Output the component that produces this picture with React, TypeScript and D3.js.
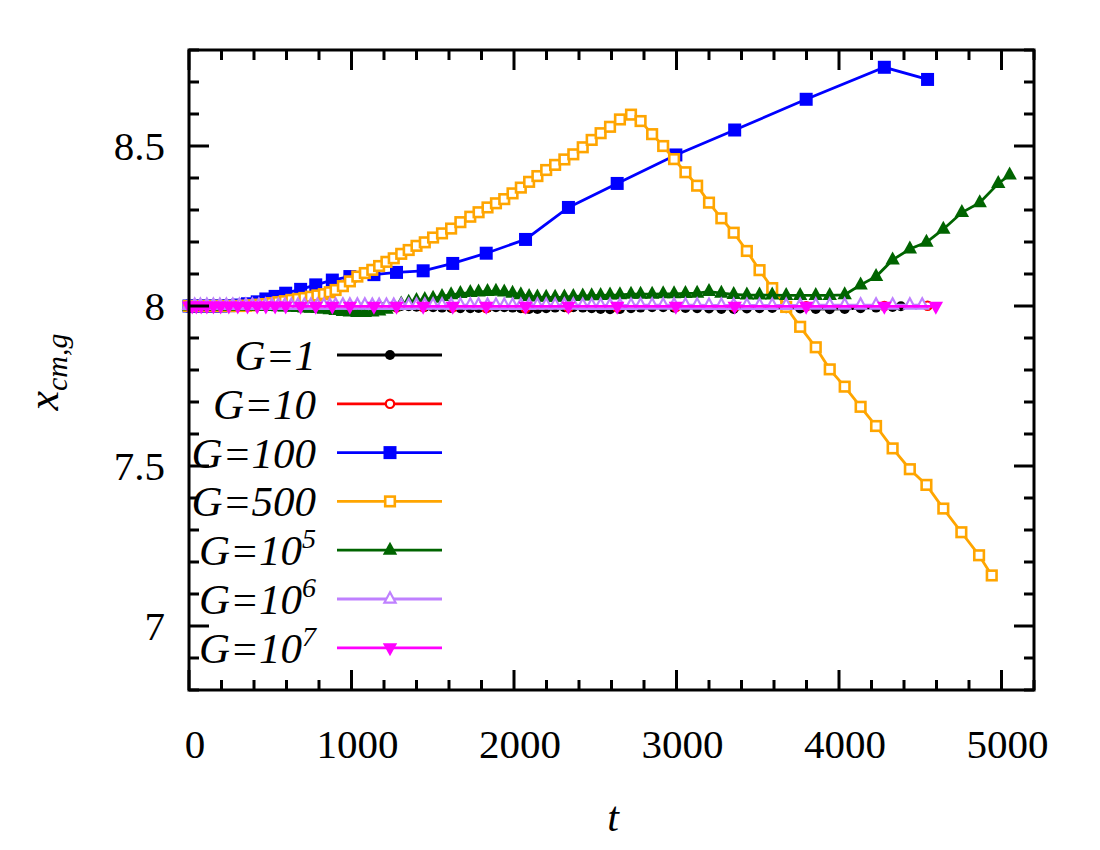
import * as d3 from 'd3';

// time grids
const tCoarse = [0, 20, 45, 75, 110, 150, 195, 245, 300, 360, 420, 473, 530, 595, 687, 780, 882, 990, 1138, 1277, 1441, 1623, 1829, 2071, 2335, 2635, 2996, 3358, 3798, 4279, 4545];
const tG7 = [0, 20, 45, 75, 110, 150, 195, 245, 300, 360, 420, 473, 530, 595, 687, 780, 882, 990, 1138, 1277, 1441, 1623, 1829, 2071, 2335, 2635, 2996, 3358, 3798, 4279, 4596];
const tFine = [
  0, 35, 70, 110, 150, 190, 230, 270, 310, 350,
  390, 430, 470, 510, 550, 590, 630, 670, 710, 750,
  790, 830, 866, 902, 947, 990, 1036, 1082, 1128, 1170,
  1215, 1260, 1306, 1352, 1400, 1451, 1502, 1557, 1613, 1670,
  1731, 1782, 1837, 1889, 1940, 1991, 2042, 2093, 2144, 2198,
  2253, 2310, 2365, 2423, 2478, 2533, 2591, 2652, 2720, 2779,
  2850, 2918, 2985, 3055, 3127, 3200, 3276, 3352, 3433, 3511,
  3589, 3675, 3761, 3857, 3943, 4035, 4133, 4228, 4330, 4436,
  4538, 4642,
];
const tG1 = [...tFine.slice(0, 79), 4381];
const tG500 = [...tFine, 4753, 4862, 4940];
const tG5 = [...tFine, 4756, 4866, 4980, 5050];
const tG6 = [...tFine.slice(0, 80), 4512];

const vG1 = [
  8.0, 8.0, 8.0, 8.0, 8.0, 8.0, 8.0, 8.0, 8.0, 8.0,
  8.0, 8.0, 8.0, 8.0, 8.0, 8.0, 8.0, 8.0, 8.0, 8.0,
  7.999, 7.999, 7.998, 7.998, 7.997, 7.997, 7.997, 7.998, 7.998, 7.999,
  8.0, 8.0, 8.0, 7.999, 7.998, 7.997, 7.996, 7.995, 7.994, 7.993,
  7.993, 7.994, 7.995, 7.996, 7.996, 7.995, 7.993, 7.991, 7.991, 7.993,
  7.995, 7.996, 7.996, 7.995, 7.993, 7.991, 7.99, 7.991, 7.993, 7.995,
  7.996, 7.996, 7.995, 7.994, 7.993, 7.992, 7.991, 7.991, 7.992, 7.993,
  7.994, 7.993, 7.992, 7.991, 7.99, 7.991, 7.993, 7.995, 7.997, 7.999,
];
const vG10 = [
  8.0, 8.0, 8.0, 8.0, 8.0, 8.0, 8.0, 8.0, 8.0, 8.0,
  8.0, 8.0, 8.0, 8.0, 7.999, 7.998, 7.997, 7.996, 7.995, 7.996,
  7.997, 7.996, 7.994, 7.993, 7.995, 7.996, 7.997, 7.998, 7.999, 8.0,
  8.001,
];
const vG100 = [
  8.0, 8.0, 8.0, 8.0, 8.0, 8.0, 8.0, 8.001, 8.003, 8.007,
  8.013, 8.022, 8.03, 8.04, 8.052, 8.066, 8.081, 8.092, 8.098, 8.105,
  8.11, 8.133, 8.165, 8.208, 8.308, 8.383, 8.472, 8.55, 8.646, 8.746,
  8.708,
];
const vG500 = [
  8.0, 8.0, 8.0, 8.0, 8.0, 8.0, 8.0, 8.0, 8.0, 8.001,
  8.002, 8.004, 8.006, 8.009, 8.012, 8.015, 8.019, 8.022, 8.025, 8.029,
  8.033, 8.037, 8.043, 8.05, 8.062, 8.077, 8.092, 8.103, 8.113, 8.125,
  8.138, 8.149, 8.163, 8.175, 8.188, 8.199, 8.214, 8.227, 8.242, 8.262,
  8.279, 8.293, 8.308, 8.321, 8.334, 8.352, 8.37, 8.388, 8.406, 8.425,
  8.441, 8.458, 8.474, 8.496, 8.519, 8.54, 8.56, 8.583, 8.598, 8.578,
  8.537, 8.5, 8.459, 8.418, 8.376, 8.323, 8.274, 8.229, 8.172, 8.112,
  8.056, 7.997, 7.935, 7.871, 7.802, 7.748, 7.685, 7.625, 7.555, 7.49,
  7.441, 7.367, 7.293, 7.221, 7.158,
];
const vG1e5 = [
  8.0, 8.0, 8.0, 8.0, 8.0, 8.0, 8.0, 8.0, 8.0, 8.0,
  8.0, 8.0, 7.999, 7.999, 7.998, 7.997, 7.996, 7.995, 7.994, 7.993,
  7.992, 7.99, 7.988, 7.986, 7.983, 7.981, 7.98, 7.98, 7.981, 7.984,
  7.99, 7.998, 8.006, 8.012, 8.017, 8.02, 8.024, 8.03, 8.035, 8.039,
  8.042, 8.044, 8.045, 8.046, 8.044, 8.04, 8.035, 8.03, 8.028, 8.027,
  8.027, 8.028, 8.03, 8.031, 8.032, 8.033, 8.034, 8.035, 8.037, 8.037,
  8.037, 8.038, 8.038, 8.039, 8.04, 8.045, 8.04, 8.036, 8.034, 8.034,
  8.034, 8.033, 8.033, 8.033, 8.033, 8.035, 8.066, 8.092, 8.144, 8.178,
  8.199, 8.24, 8.292, 8.323, 8.383, 8.409,
];
const vG1e6 = [
  8.002, 8.002, 8.002, 8.002, 8.002, 8.002, 8.002, 8.002, 8.002, 8.002,
  8.002, 8.002, 8.002, 8.002, 8.002, 8.002, 8.002, 8.002, 8.002, 8.002,
  8.002, 8.002, 8.002, 8.003, 8.003, 8.003, 8.003, 8.003, 8.002, 8.002,
  8.002, 8.002, 8.002, 8.002, 8.003, 8.003, 8.003, 8.003, 8.003, 8.003,
  8.003, 8.003, 8.002, 8.002, 8.002, 8.002, 8.002, 8.002, 8.003, 8.003,
  8.003, 8.003, 8.003, 8.002, 8.002, 8.002, 8.002, 8.002, 8.002, 8.003,
  8.003, 8.003, 8.003, 8.003, 8.003, 8.002, 8.002, 8.002, 8.002, 8.002,
  8.002, 8.002, 8.002, 8.003, 8.003, 8.003, 8.003, 8.003, 8.003, 8.003,
  8.003,
];
const vG1e7 = [
  8.0, 8.0, 8.0, 8.0, 8.0, 8.0, 8.0, 8.0, 8.0, 8.0,
  8.0, 8.0, 8.0, 8.0, 7.999, 7.999, 7.999, 7.999, 7.999, 7.999,
  7.999, 7.999, 7.999, 7.999, 7.999, 7.999, 7.999, 7.999, 7.999, 7.999,
  7.999,
];

const seriesLabels = ['G=1', 'G=10', 'G=100', 'G=500', 'G=10', 'G=10', 'G=10'];
const seriesSups = ['', '', '', '', '5', '6', '7'];
const seriesColors = ['#000000', '#ff0000', '#0000ff', '#ffa500', '#006400', '#bf80ff', '#ff00ff'];
const seriesMarkers = ['dot', 'ring', 'square', 'box', 'tri', 'opentri', 'down'];
const seriesT = [tG1, tCoarse, tCoarse, tG500, tG5, tG6, tG7];
const seriesV = [vG1, vG10, vG100, vG500, vG1e5, vG1e6, vG1e7];

const xTicks = [0, 1000, 2000, 3000, 4000, 5000];
const yTicks = [7, 7.5, 8, 8.5];

const FONT = '"Liberation Serif", "Times New Roman", serif';
const left = 189, right = 1034, top = 50, bottom = 690;

function Marker({ kind, color, x, y }: { kind: string; color: string; x: number; y: number }) {
  const t = `translate(${x},${y})`;
  switch (kind) {
    case 'dot':
      return <circle transform={t} r={5} fill={color} />;
    case 'ring':
      return <circle transform={t} r={4.2} fill="white" stroke={color} strokeWidth={2.2} />;
    case 'square':
      return <rect transform={t} x={-6.5} y={-6.5} width={13} height={13} fill={color} />;
    case 'box':
      return <rect transform={t} x={-4.8} y={-4.8} width={9.6} height={9.6} fill="white" stroke={color} strokeWidth={2.6} />;
    case 'tri':
      return <path transform={t} d="M0,-8.5L7.2,4.5L-7.2,4.5Z" fill={color} />;
    case 'opentri':
      return <path transform={t} d="M0,-6.8L5.6,3.6L-5.6,3.6Z" fill="white" stroke={color} strokeWidth={2.2} />;
    case 'down':
      return <path transform={t} d="M0,8.5L7.2,-4.5L-7.2,-4.5Z" fill={color} />;
    default:
      return null;
  }
}

export default function App() {
  const x = d3.scaleLinear().domain([0, 5200]).range([left, right]);
  const y = d3.scaleLinear().domain([6.8, 8.8]).range([bottom, top]);
  const line = d3.line<[number, number]>().x(d => x(d[0])).y(d => y(d[1]));

  const xMinor = x.ticks(26);
  const yMinor = y.ticks(20);

  const series = seriesLabels.map((label, i) => ({
    label,
    sup: seriesSups[i],
    color: seriesColors[i],
    marker: seriesMarkers[i],
    pts: seriesT[i].map((t, j) => [t, seriesV[i][j]] as [number, number]).filter(p => p[1] !== undefined),
  }));

  const legendY = (i: number) => 355 + i * 48.8;

  return (
    <svg width={1100} height={850} style={{ position: 'absolute', left: 0, top: 0, background: 'white' }}
      fontFamily={FONT}>
      <rect width={1100} height={850} fill="white" />

      {/* data */}
      <g>
        {series.map((s, i) => (
          <g key={i}>
            <path d={line(s.pts) || ''} fill="none" stroke={s.color} strokeWidth={2.8} />
            {s.pts.map((p, j) => (
              <Marker key={j} kind={s.marker} color={s.color} x={x(p[0])} y={y(p[1])} />
            ))}
          </g>
        ))}
      </g>

      {/* ticks */}
      <g stroke="black" strokeWidth={3}>
        {xMinor.map(v => {
          const len = v % 1000 === 0 ? 20 : 10;
          return (
            <g key={'x' + v}>
              <line x1={x(v)} x2={x(v)} y1={bottom} y2={bottom - len} />
              <line x1={x(v)} x2={x(v)} y1={top} y2={top + len} />
            </g>
          );
        })}
        {yMinor.map(v => {
          const major = Math.abs(v * 2 - Math.round(v * 2)) < 1e-6;
          const len = major ? 20 : 10;
          return (
            <g key={'y' + v}>
              <line x1={left} x2={left + len} y1={y(v)} y2={y(v)} />
              <line x1={right} x2={right - len} y1={y(v)} y2={y(v)} />
            </g>
          );
        })}
      </g>
      <rect x={left} y={top} width={right - left} height={bottom - top} fill="none" stroke="black" strokeWidth={3} />

      {/* tick labels */}
      <g fontSize={41} fill="black">
        {xTicks.map(v => (
          <text key={v} x={x(v) + 6} y={758} textAnchor="middle">{v}</text>
        ))}
        {yTicks.map(v => (
          <text key={v} x={165} y={y(v) + 14} textAnchor="end">{v}</text>
        ))}
      </g>

      {/* axis titles */}
      <text x={613} y={831} fontSize={42} fontStyle="italic" textAnchor="middle">t</text>
      <text transform="translate(58,372) rotate(-90)" fontSize={44} fontStyle="italic" textAnchor="middle">
        x<tspan fontSize={30} dy={9}>cm,g</tspan>
      </text>

      {/* legend */}
      <g>
        {series.map((s, i) => (
          <g key={i}>
            <text x={316} y={legendY(i) + 15} fontSize={43} fontStyle="italic" textAnchor="end">
              {s.label}
              {s.sup && <tspan fontSize={28} dy={-17}>{s.sup}</tspan>}
            </text>
            <line x1={337} x2={442} y1={legendY(i)} y2={legendY(i)} stroke={s.color} strokeWidth={2.8} />
            <Marker kind={s.marker} color={s.color} x={390} y={legendY(i)} />
          </g>
        ))}
      </g>
    </svg>
  );
}
